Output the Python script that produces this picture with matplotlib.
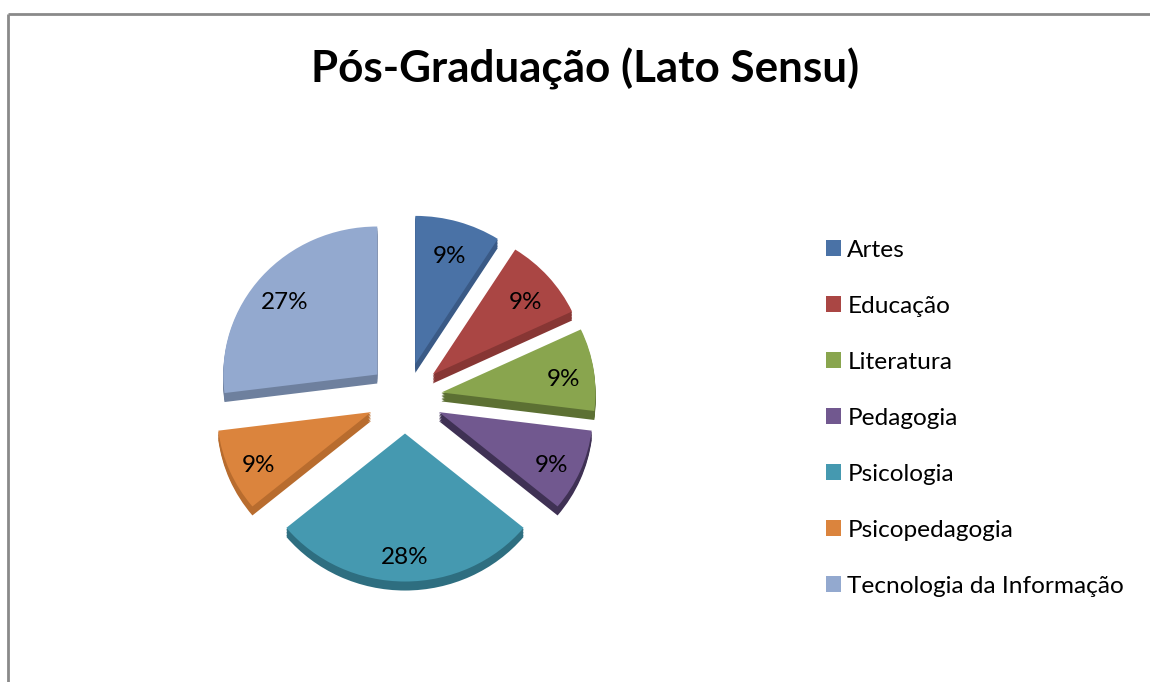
import matplotlib
matplotlib.use('Agg')
import matplotlib.pyplot as plt
import matplotlib.transforms as mtransforms

# ---- data ----
categories = ['Artes', 'Educação', 'Literatura', 'Pedagogia', 'Psicologia',
              'Psicopedagogia', 'Tecnologia da Informação']
values = [9, 9, 9, 9, 28, 9, 27]
colors = ['#4A72A6', '#AA4644', '#89A54E', '#71588F', '#4599B0', '#DB843D', '#93A9CF']
side_colors = ['#3A5A86', '#873634', '#5C7033', '#3F3154', '#2E6E80', '#B86C2E', '#6E809E']
title = 'Pós-Graduação (Lato Sensu)'

FONT = 'Lato'
W, H = 1150, 682
fig = plt.figure(figsize=(W / 100, H / 100), dpi=100)
fig.patch.set_facecolor('white')

# background axes for frame
bg = fig.add_axes([0, 0, 1, 1])
bg.set_xlim(0, W)
bg.set_ylim(H, 0)
bg.axis('off')
bg.plot([8, 8], [H, 13.5], color='#8A8A8A', lw=2, solid_capstyle='butt')
bg.plot([8, W], [13.5, 13.5], color='#8A8A8A', lw=2, solid_capstyle='butt')

fig.text(585 / W, 1 - 69 / H, title, ha='center', va='center',
         fontsize=31.7, fontweight='bold', family=FONT, color='black')

# pie axes
cx, cy = 405, 398
rx, ry = 154, 148
ax = fig.add_axes([(cx - 1.6 * rx) / W, (H - cy - 1.6 * ry) / H, 3.2 * rx / W, 3.2 * ry / H])
explode = [0.24] * len(values)
depth = 9.0 / ry
nlayers = 6
for i in range(nlayers, 0, -1):
    ax.pie(values, explode=explode, colors=side_colors, startangle=90,
           counterclock=False, center=(0, -depth * i / nlayers), radius=1,
           wedgeprops=dict(linewidth=0))
wedges, texts, autotexts = ax.pie(values, explode=explode, colors=colors, startangle=90,
                                  counterclock=False, autopct='%.0f%%', pctdistance=0.8,
                                  radius=1, wedgeprops=dict(linewidth=0),
                                  textprops=dict(fontsize=17.5, family=FONT, color='black'))
shift = mtransforms.ScaledTranslation(0, -6 / 100, fig.dpi_scale_trans)
for t in autotexts:
    t.set_transform(t.get_transform() + shift)
ax.set_xlim(-1.6, 1.6)
ax.set_ylim(-1.6, 1.6)
ax.set_aspect('auto')
ax.axis('off')

leg = fig.legend(wedges, categories, loc='upper left',
                 bbox_to_anchor=(826 / W, 1 - 240 / H), frameon=False,
                 prop=dict(family=FONT, size=17.6), handlelength=0.62, handleheight=0.62,
                 handletextpad=0.25, labelspacing=1.43, borderpad=0, borderaxespad=0)

fig.savefig('out.png', dpi=100, facecolor='white')
